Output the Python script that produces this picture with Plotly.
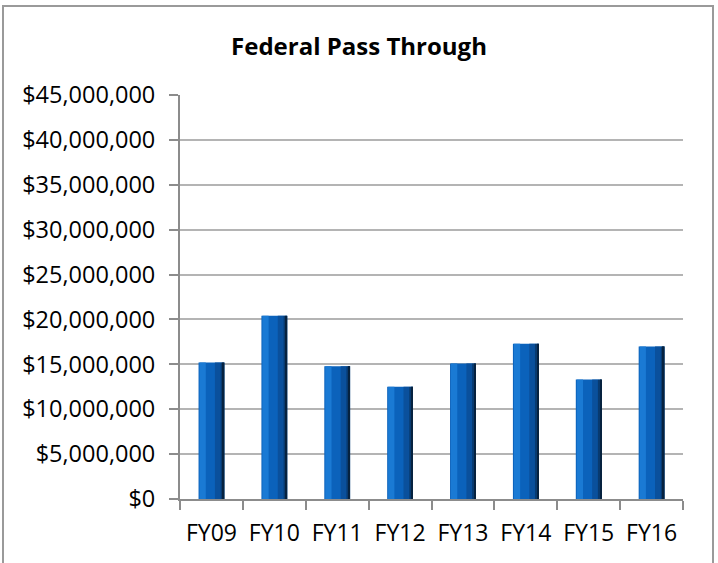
import plotly.graph_objects as go

# Federal pass-through funding by fiscal year (USD)
years = ["FY09", "FY10", "FY11", "FY12", "FY13", "FY14", "FY15", "FY16"]
amounts = [15200000, 20400000, 14800000, 12500000, 15100000, 17300000, 13300000, 17000000]

y_ticks = [0, 5000000, 10000000, 15000000, 20000000, 25000000,
           30000000, 35000000, 40000000, 45000000]
y_tick_labels = ["$0", "$5,000,000", "$10,000,000", "$15,000,000", "$20,000,000",
                 "$25,000,000", "$30,000,000", "$35,000,000", "$40,000,000",
                 "$45,000,000"]

FONT = "Open Sans"
BAR_W = 0.41
HALF = BAR_W / 2

fig = go.Figure()

# Layered bars give each column a bevelled, shaded look:
# base body, a lighter left face, and darkening strips toward the right edge.
layers = [
    # (width, offset, colour)
    (BAR_W, -HALF, "#0b62bb"),
    (0.10, -HALF + 0.015, "#1a7ad4"),
    (0.09, HALF - 0.15, "#0a509c"),
    (0.06, HALF - 0.06, "#083a70"),
    (0.025, HALF - 0.025, "#06223f"),
]
for w, off, col in layers:
    fig.add_trace(go.Bar(
        x=years, y=amounts,
        width=[w] * len(years), offset=[off] * len(years),
        marker=dict(color=col, line=dict(width=0)),
        hoverinfo="skip" if w != BAR_W else None,
        showlegend=False,
    ))

PLOT_H = 563 - 95 - 64
PLOT_W = 718 - 180 - 35

fig.update_layout(
    width=718, height=563,
    margin=dict(l=180, r=35, t=95, b=64),
    paper_bgcolor="white", plot_bgcolor="white",
    barmode="overlay",
    title=dict(text="<b>Federal Pass Through</b>", x=0.5, xanchor="center",
               y=1 - 47 / 563, yanchor="middle",
               font=dict(family=FONT, size=24, color="black")),
    font=dict(family=FONT, size=23, color="black"),
    xaxis=dict(
        type="category",
        showline=True, linecolor="#8c8c8c", linewidth=2,
        ticks="outside", tickson="boundaries", ticklen=9,
        tickcolor="#8c8c8c", tickwidth=2,
        ticklabelstandoff=12,
        tickfont=dict(family=FONT, size=23, color="black"),
        showgrid=False,
    ),
    yaxis=dict(
        range=[0, 45000000],
        tickvals=y_ticks, ticktext=y_tick_labels,
        showline=True, linecolor="#8c8c8c", linewidth=2,
        ticks="outside", ticklen=9, tickcolor="#8c8c8c", tickwidth=2,
        ticklabelstandoff=9,
        showgrid=True, gridcolor="#b4b4b4", gridwidth=2,
        zeroline=False,
        tickfont=dict(family=FONT, size=23.5, color="black"),
    ),
    shapes=[
        # chart frame
        dict(type="rect", xref="paper", yref="paper",
             x0=(3 - 180) / PLOT_W, x1=(713 - 180) / PLOT_W,
             y0=(499 - 620) / PLOT_H, y1=(499 - 6) / PLOT_H,
             line=dict(color="#9a9a9a", width=2), fillcolor="rgba(0,0,0,0)",
             layer="below"),
    ],
)

fig.write_html("out.html")
